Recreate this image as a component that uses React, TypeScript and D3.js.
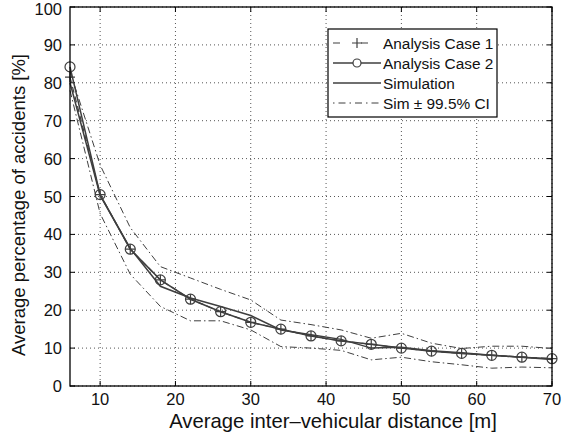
import React from "react";
import * as d3 from "d3";

const xValues = [6, 10, 14, 18, 22, 26, 30, 34, 38, 42, 46, 50, 54, 58, 62, 66, 70];
const case1 = [81.5, 50.5, 36.1, 28, 22.9, 19.6, 16.8, 15, 13.2, 11.9, 11.0, 10.0, 9.2, 8.6, 8.1, 7.6, 7.2];
const case2 = [84.2, 50.5, 36.1, 28, 22.9, 19.6, 16.8, 15, 13.2, 11.9, 11.0, 10.0, 9.2, 8.6, 8.1, 7.6, 7.2];
const simulation = [80, 50.3, 36.3, 26.3, 23.2, 21, 18.6, 14.8, 13.5, 12.3, 10.0, 10.2, 9.3, 8.8, 8.1, 7.6, 7.0];
const ciUpper = [83, 58.3, 41.8, 31.5, 28.5, 25.5, 22.7, 17.4, 16.2, 14.8, 12.6, 13.9, 11.3, 9.9, 10.5, 10.5, 9.9];
const ciLower = [78, 45.5, 29.5, 21, 17.2, 17.2, 14.8, 10.4, 10, 9.4, 6.9, 7.6, 6.4, 5.6, 4.7, 5.0, 4.8];
const xTicks = [10, 20, 30, 40, 50, 60, 70];
const yTicks = [0, 10, 20, 30, 40, 50, 60, 70, 80, 90, 100];
const legendLabels = ["Analysis Case 1", "Analysis Case 2", "Simulation", "Sim \u00b1 99.5% CI"];

const W = 584, H = 436;
const M = { left: 70, right: 552, top: 7, bottom: 386 };
const FONT = "'Liberation Sans', Arial, Helvetica, sans-serif";
const LC = "#3f3f3f";

export default function App() {
  const x = d3.scaleLinear().domain([6, 70]).range([M.left, M.right]);
  const y = d3.scaleLinear().domain([0, 100]).range([M.bottom, M.top]);
  const line = (vals: number[]) =>
    d3.line<number>().x((_, i) => x(xValues[i])).y((v) => y(v))(vals) || "";

  const plus = (cx: number, cy: number, s = 4.5) => `M${cx - s},${cy}H${cx + s}M${cx},${cy - s}V${cy + s}`;

  const lg = { x0: 328, y0: 29, x1: 497, y1: 117 };
  const rows = [43, 63, 83, 103];
  const sx0 = 333, sx1 = 381, tx = 383;

  return (
    <div style={{ position: "fixed", left: 0, top: 0 }}>
      <svg width={W} height={H} style={{ display: "block", background: "#fff" }} fontFamily={FONT}>
        <rect x={0} y={0} width={W} height={H} fill="#fff" />
        {/* grid */}
        {xTicks.map((t) => (
          <line key={"gx" + t} x1={x(t)} x2={x(t)} y1={M.top} y2={M.bottom} stroke="#555" strokeWidth={1} strokeDasharray="1,3" />
        ))}
        {yTicks.map((t) => (
          <line key={"gy" + t} x1={M.left} x2={M.right} y1={y(t)} y2={y(t)} stroke="#555" strokeWidth={1} strokeDasharray="1,3" />
        ))}
        {/* ticks */}
        {xTicks.map((t) => (
          <g key={"tx" + t}>
            <line x1={x(t)} x2={x(t)} y1={M.bottom} y2={M.bottom - 5} stroke="#000" />
            <line x1={x(t)} x2={x(t)} y1={M.top} y2={M.top + 5} stroke="#000" />
            <text x={x(t)} y={405} textAnchor="middle" fontSize={16.5} fill="#111">{t}</text>
          </g>
        ))}
        {yTicks.map((t) => (
          <g key={"ty" + t}>
            <line x1={M.left} x2={M.left + 5} y1={y(t)} y2={y(t)} stroke="#000" />
            <line x1={M.right} x2={M.right - 5} y1={y(t)} y2={y(t)} stroke="#000" />
            <text x={62} y={Math.max(y(t) + 6, 15)} textAnchor="end" fontSize={16.5} fill="#111">{t}</text>
          </g>
        ))}
        {/* CI */}
        <path d={line(ciUpper)} fill="none" stroke={LC} strokeWidth={1} strokeDasharray="7,3,1.5,3" />
        <path d={line(ciLower)} fill="none" stroke={LC} strokeWidth={1} strokeDasharray="7,3,1.5,3" />
        {/* simulation */}
        <path d={line(simulation)} fill="none" stroke={LC} strokeWidth={1.5} />
        {/* case 2 */}
        <path d={line(case2)} fill="none" stroke={LC} strokeWidth={1.5} />
        {/* case 1 */}
        <path d={line(case1)} fill="none" stroke={LC} strokeWidth={1.2} strokeDasharray="6,4" />
        {case2.map((v, i) => (
          <circle key={"c" + i} cx={x(xValues[i])} cy={y(v)} r={5} fill="none" stroke={LC} strokeWidth={1.2} />
        ))}
        {case1.map((v, i) => (
          <path key={"p" + i} d={plus(x(xValues[i]), y(v), 5)} stroke={LC} strokeWidth={1.2} />
        ))}
        {/* frame */}
        <rect x={M.left} y={M.top} width={M.right - M.left} height={M.bottom - M.top} fill="none" stroke="#000" strokeWidth={1.3} />
        {/* legend */}
        <rect x={lg.x0} y={lg.y0} width={lg.x1 - lg.x0} height={lg.y1 - lg.y0} fill="#fff" stroke="#000" strokeWidth={1.2} />
        <line x1={sx0} x2={sx1} y1={rows[0]} y2={rows[0]} stroke={LC} strokeWidth={1.2} strokeDasharray="7,10.5,0,10.5" />
        <path d={plus((sx0 + sx1) / 2, rows[0], 5)} stroke={LC} strokeWidth={1.2} />
        <line x1={sx0} x2={sx1} y1={rows[1]} y2={rows[1]} stroke={LC} strokeWidth={1.4} />
        <circle cx={(sx0 + sx1) / 2} cy={rows[1]} r={4} fill="#fff" stroke={LC} strokeWidth={1.2} />
        <line x1={sx0} x2={sx1} y1={rows[2]} y2={rows[2]} stroke={LC} strokeWidth={1.4} />
        <line x1={sx0} x2={sx1} y1={rows[3]} y2={rows[3]} stroke={LC} strokeWidth={1} strokeDasharray="1.5,4,7,4" />
        {legendLabels.map((l, i) => (
          <text key={l} x={tx} y={rows[i] + 6} fontSize={15.4} fill="#111">{l}</text>
        ))}
        {/* axis labels */}
        <text x={333} y={428} textAnchor="middle" fontSize={20.3} fill="#111">
          Average inter{"\u2013"}vehicular distance [m]
        </text>
        <text transform={`translate(25,205) rotate(-90)`} textAnchor="middle" fontSize={18.5} fill="#111">
          Average percentage of accidents [%]
        </text>
      </svg>
    </div>
  );
}
